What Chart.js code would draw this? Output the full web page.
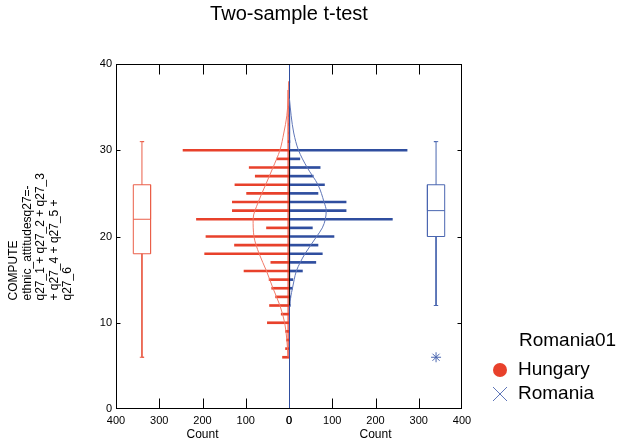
<!DOCTYPE html>
<html><head><meta charset="utf-8">
<script src="https://cdn.jsdelivr.net/npm/chart.js@4.4.1/dist/chart.umd.min.js"></script>
<style>html,body{margin:0;padding:0;background:#fff;}#wrap{width:621px;height:444px;position:relative;}</style>
</head><body><div id="wrap"><canvas id="c" width="621" height="444"></canvas></div>
<script>
// ---- data ----
const values        = [6,7,8,9,10,11,12,13,14,15,16,17,18,19,20,21,22,23,24,25,26,27,28,29,30,31,32,33,34,35,36,37];
const hungaryCounts = [15,8,6,8,50,18,45,31,40,46,104,42,195,126,192,52,214,131,131,98,125,78,92,28,245,2,0,0,0,0,0,0];
const romaniaCounts = [1,0,0,0,0,0,3,4,8,9,31,62,77,67,104,54,239,132,132,67,82,56,72,25,273,2,0,0,0,0,0,0];
const hungaryCurveY = [6,8,10,12,14,16,18,20,22,24,26,28,30,32,34,36,38];
const hungaryCurveX = [2,5,10,21,37,52,69,81,83,71,54,37,21,12,5,2,1];
const romaniaCurveY = [12,13,14,15,16,17,18,20,21,22,23,24,26,28,30,32,34,36];
const romaniaCurveX = [2,4,8,12,17,26,37,64,77,84,86,81,67,42,22,11,5,1];
const hungaryBox    = [6,18,22,26,31];   // min, q1, median, q3, max
const romaniaBox    = [12,20,23,26,31];
const romaniaOutliers = [6];
const hungarySpine  = [6,37];
const romaniaSpine  = [12,35];
const sharedSpine   = [12,30];
const yTickValues   = [0,10,20,30,40];
const countTickValues = [0,100,200,300,400];
const yTitleLines   = ['COMPUTE','ethnic_attitudesq27=-','q27_1 + q27_2 + q27_3','+ q27_4 + q27_5 +','q27_6'];
const legendTitle   = 'Romania01';
const groups        = ['Hungary','Romania'];

// ---- styles ----
const FONT = "'Liberation Sans', Arial, sans-serif";
Chart.defaults.font.family = FONT;
Chart.defaults.color = '#000';
const RED = '#e8412b', RED_L = '#f27a68', RED_B = '#ea5e48';
const BLUE = '#2f4e9f', BLUE_L = '#5f76b8', BLUE_B = '#4a66b0';
const BOX_C = 340, BOX_W = 20, CAP = 5;

function boxOutline(b){const [mn,q1,md,q3,mx]=b;return [{x:BOX_C-BOX_W,y:q1},{x:BOX_C+BOX_W,y:q1},{x:BOX_C+BOX_W,y:q3},{x:BOX_C-BOX_W,y:q3},{x:BOX_C-BOX_W,y:q1},{x:BOX_C-BOX_W,y:md},{x:BOX_C+BOX_W,y:md}];}
function upperWhisker(b){const [mn,q1,md,q3,mx]=b;return [{x:BOX_C,y:q3},{x:BOX_C,y:mx},{x:BOX_C-CAP,y:mx},{x:BOX_C+CAP,y:mx}];}
function lowerWhisker(b){const [mn,q1,md,q3,mx]=b;return [{x:BOX_C,y:q1},{x:BOX_C,y:mn},{x:BOX_C-CAP,y:mn},{x:BOX_C+CAP,y:mn}];}
function lineDS(data, axis, color, width){return {type:'scatter',showLine:true,xAxisID:axis,yAxisID:'y',data,borderColor:color,backgroundColor:color,borderWidth:width,pointRadius:0,tension:0,fill:false};}
function curveDS(xs, ys, axis, color){const d=lineDS(ys.map((y,i)=>({x:xs[i],y})),axis,color,1);d.type='line';d.indexAxis='y';d.cubicInterpolationMode='monotone';return d;}

const datasets = [
  lineDS(sharedSpine.map(y=>({x:0,y})),'xR','#111',2),
  curveDS(hungaryCurveX,hungaryCurveY,'xL',RED_L),
  curveDS(romaniaCurveX,romaniaCurveY,'xR',BLUE_L),
  lineDS(boxOutline(hungaryBox),'xL',RED_B,1),
  lineDS(upperWhisker(hungaryBox),'xL',RED_B,1),
  lineDS(lowerWhisker(hungaryBox),'xL',RED_B,1),
  lineDS(boxOutline(romaniaBox),'xR',BLUE_B,1),
  lineDS(upperWhisker(romaniaBox),'xR',BLUE_B,1),
  lineDS(lowerWhisker(romaniaBox),'xR',BLUE_B,1),
  {type:'scatter',xAxisID:'xR',yAxisID:'y',data:romaniaOutliers.map(y=>({x:BOX_C,y})),pointStyle:'star',pointRadius:5,borderColor:BLUE_B,borderWidth:1,backgroundColor:BLUE_B},
  lineDS(hungarySpine.map(y=>({x:2,y})),'xL',RED,1.2),
  lineDS(romaniaSpine.map(y=>({x:1,y})),'xR',BLUE,1.5),
  {type:'bar',label:groups[0],indexAxis:'y',xAxisID:'xL',yAxisID:'y',grouped:false,barThickness:2,borderWidth:0,backgroundColor:RED,data:values.map((v,i)=>({y:v,x:hungaryCounts[i]}))},
  {type:'bar',label:groups[1],indexAxis:'y',xAxisID:'xR',yAxisID:'y',grouped:false,barThickness:2,borderWidth:0,backgroundColor:BLUE,data:values.map((v,i)=>({y:v,x:romaniaCounts[i]}))}
];

const tickFont = {size:11, family:FONT};
function countAxis(rev){
  return {type:'linear',position:'bottom',stack:'cnt',stackWeight:1,reverse:rev,min:0,max:400,offset:false,
    afterBuildTicks(s){s.ticks=countTickValues.map(v=>({value:v}));},
    ticks:{padding:5,maxRotation:0,autoSkip:false,font:tickFont,color:'#000'},
    grid:{display:!rev,drawOnChartArea:true,drawTicks:false,offset:false,
      color:c=>(c.tick&&c.tick.value===0)?BLUE:'rgba(0,0,0,0)',lineWidth:1},
    border:{display:false},
    title:{display:true,text:'Count',font:{size:12,family:FONT},color:'#000',padding:{top:0,bottom:2}},
    afterFit(s){s.height=35;}};
}

const decor = {
  id:'decor',
  afterDraw(chart){
    const ctx=chart.ctx, ca=chart.chartArea, ys=chart.scales.y, xl=chart.scales.xL, xr=chart.scales.xR;
    ctx.save();
    ctx.strokeStyle='#000'; ctx.lineWidth=1;
    const L=Math.round(ca.left)+0.5, R=Math.round(ca.right)-0.5, T=Math.round(ca.top)+0.5, B=Math.round(ca.bottom)-0.5;
    ctx.strokeRect(L,T,R-L,B-T);
    ctx.beginPath();
    yTickValues.forEach(v=>{ if(v<=0||v>=40) return; const p=Math.round(ys.getPixelForValue(v))+0.5;
      ctx.moveTo(L,p);ctx.lineTo(L+4,p);ctx.moveTo(R,p);ctx.lineTo(R-4,p);});
    [xl,xr].forEach(sc=>countTickValues.forEach(v=>{ if(v<=0||v>=400) return; const p=Math.round(sc.getPixelForValue(v))+0.5;
      ctx.moveTo(p,B);ctx.lineTo(p,B-10);ctx.moveTo(p,T);ctx.lineTo(p,T+10);}));
    ctx.stroke();
    // y axis title (left aligned block, rotated)
    ctx.fillStyle='#000'; ctx.font='12px '+FONT; ctx.textAlign='left'; ctx.textBaseline='middle';
    const startY=(ca.top+ca.bottom)/2+64;
    yTitleLines.forEach((t,i)=>{ctx.save();ctx.translate(14+i*13.5,startY);ctx.rotate(-Math.PI/2);ctx.fillText(t,0,0);ctx.restore();});
    // legend
    ctx.font='19px '+FONT; ctx.textAlign='left'; ctx.textBaseline='middle';
    const lx=ca.right+56, mx=ca.right+38;
    ctx.fillText(legendTitle,lx+1,ca.bottom-68);
    ctx.fillText(groups[0],lx,ca.bottom-39);
    ctx.fillText(groups[1],lx,ca.bottom-15);
    ctx.fillStyle=RED; ctx.beginPath(); ctx.arc(mx,ca.bottom-39,7,0,Math.PI*2); ctx.fill();
    ctx.strokeStyle=BLUE_L; ctx.lineWidth=1; ctx.beginPath();
    ctx.moveTo(mx-7,ca.bottom-22);ctx.lineTo(mx+7,ca.bottom-8);ctx.moveTo(mx+7,ca.bottom-22);ctx.lineTo(mx-7,ca.bottom-8);ctx.stroke();
    ctx.restore();
  }
};

new Chart(document.getElementById('c'),{
  type:'scatter',
  data:{datasets},
  options:{
    responsive:false, animation:false, devicePixelRatio:1,
    layout:{padding:{left:0,right:159,top:0,bottom:0}},
    plugins:{
      legend:{display:false}, tooltip:{enabled:false},
      title:{display:true,text:'Two-sample t-test',fullSize:false,color:'#000',font:{size:20,family:FONT,weight:'normal'},padding:{top:2,bottom:38}}
    },
    scales:{
      y:{type:'linear',position:'left',min:0,max:40,offset:false,
        afterBuildTicks(s){s.ticks=yTickValues.map(v=>({value:v}));},
        ticks:{padding:4,font:tickFont,color:'#000'},
        grid:{display:false,drawTicks:false,offset:false},border:{display:false},
        afterFit(s){s.width=116;}},
      xL:countAxis(true),
      xR:countAxis(false)
    }
  },
  plugins:[decor]
});
</script></body></html>
